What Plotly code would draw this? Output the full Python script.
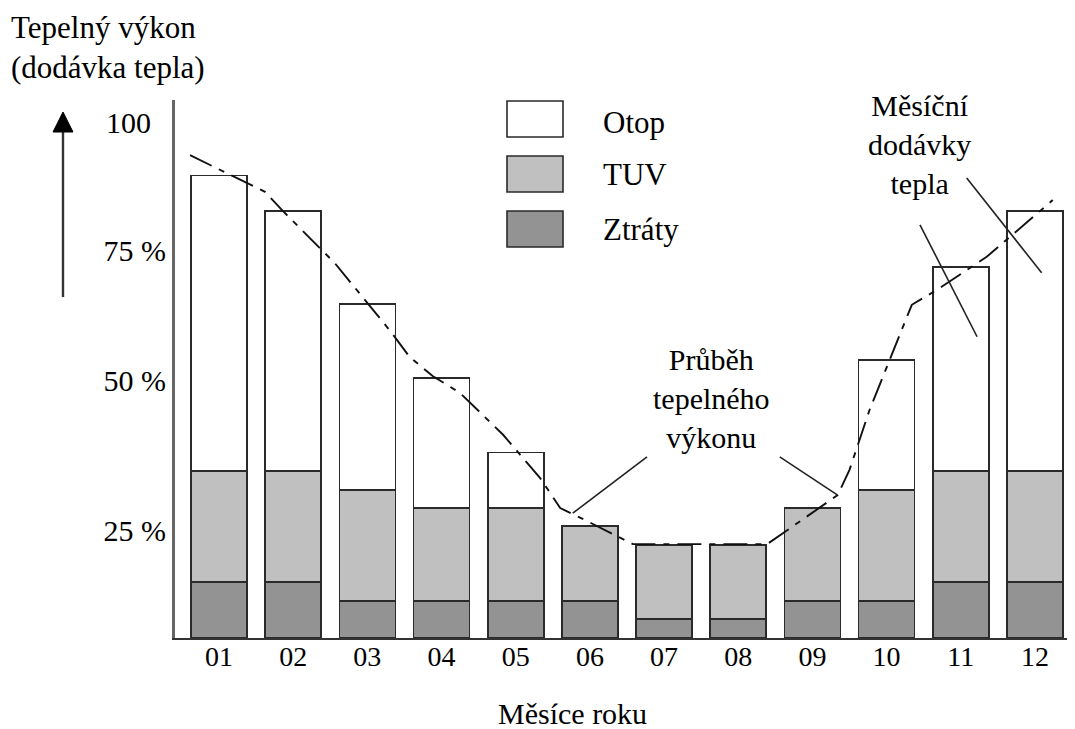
import plotly.graph_objects as go

# Monthly heat delivery shares (% of peak)
months = list(range(1, 13))
month_labels = ["01", "02", "03", "04", "05", "06", "07", "08", "09", "10", "11", "12"]
ztraty = [10.9, 10.9, 7.2, 7.2, 7.2, 7.2, 3.7, 3.7, 7.2, 7.2, 10.9, 10.9]
tuv = [21.5, 21.5, 21.5, 18.0, 18.0, 14.5, 14.3, 14.3, 18.0, 21.5, 21.5, 21.5]
otop = [57.3, 50.4, 36.0, 25.2, 10.8, 0, 0, 0, 0, 25.2, 39.5, 50.4]

# Průběh tepelného výkonu (dash-dot curve)
curve_x = [0.61, 1.62, 1.86, 2.56, 3.31, 3.57, 3.88, 4.25, 4.83, 5.33, 5.60, 5.93,
           6.58, 8.39, 9.34, 9.50, 9.77, 10.02, 10.34, 10.68, 11.35, 12.24]
curve_y = [93.6, 86.5, 82.8, 72.7, 59.5, 54.5, 50.8, 47.5, 39.4, 31.0, 25.2, 22.9,
           18.2, 18.2, 27.7, 32.6, 44.2, 53.3, 64.6, 67.5, 73.9, 84.9]

# y tick labels, placed where the reference puts them
ytick_vals = [20.9, 50, 75.2, 100]
ytick_text = ["25 %", "50 %", "75 %", "100\u00a0\u00a0"]

FONT = "Liberation Serif, Times New Roman, serif"
OFF = 8  # page body margin
W, H = 1075 - OFF, 729 - OFF
L, R, T, B = 175 - OFF, 0, 100 - OFF, 91
PW, PH = W - L - R, H - T - B


def px(x, y):
    # reference pixel position -> paper coordinates
    return (x - OFF - L) / PW, (H - B - (y - OFF)) / PH


fig = go.Figure()

bar_line = dict(color="#2a2a2a", width=1.6)
fig.add_trace(go.Bar(x=months, y=ztraty, name="Ztráty", width=0.755,
                     marker=dict(color="#939393", line=bar_line)))
fig.add_trace(go.Bar(x=months, y=tuv, name="TUV", width=0.755,
                     marker=dict(color="#c0c0c0", line=bar_line)))
fig.add_trace(go.Bar(x=months, y=otop, name="Otop", width=0.755,
                     marker=dict(color="white", line=bar_line)))

fig.add_trace(go.Scatter(x=curve_x, y=curve_y, mode="lines",
                         line=dict(color="#111", width=1.9, dash="24px,8px,6px,8px"),
                         showlegend=False))

# leader lines for the callouts
for x0, y0, x1, y1 in [(6.77, 35.1, 5.77, 24.2), (8.56, 35.1, 9.34, 27.7),
                       (10.45, 80.1, 11.22, 58.4), (11.08, 89.2, 12.09, 70.8)]:
    fig.add_shape(type="line", x0=x0, y0=y0, x1=x1, y1=y1, xref="x", yref="y",
                  line=dict(color="#222", width=1.6))

fig.add_annotation(x=7.64, y=46.5, xref="x", yref="y", showarrow=False,
                   text="Průběh<br>tepelného<br>výkonu", align="center",
                   font=dict(size=30))
fig.add_annotation(x=10.45, y=95.6, xref="x", yref="y", showarrow=False,
                   text="Měsíční<br>dodávky<br>tepla", align="center",
                   font=dict(size=30))

# hand-drawn style legend
legend = [("Otop", "white", 101, 123), ("TUV", "#c0c0c0", 156, 175), ("Ztráty", "#939393", 211, 229)]
for name, col, top, mid in legend:
    x0, y0 = px(507, top + 36)
    x1, y1 = px(563, top)
    fig.add_shape(type="rect", xref="paper", yref="paper", x0=x0, y0=y0, x1=x1, y1=y1,
                  fillcolor=col, line=dict(color="#2a2a2a", width=1.6))
    lx, ly = px(601, mid)
    fig.add_annotation(x=lx, y=ly, xref="paper", yref="paper", text=name, showarrow=False,
                       xanchor="left", yanchor="middle", font=dict(size=31))

# y title and arrow
tx, ty = px(9, 8)
fig.add_annotation(x=tx, y=ty, xref="paper", yref="paper", showarrow=False,
                   text="Tepelný výkon<br>(dodávka tepla)", align="left",
                   xanchor="left", yanchor="top", font=dict(size=31))
sx0, sy0 = px(63, 297)
sx1, sy1 = px(63, 130)
fig.add_shape(type="line", xref="paper", yref="paper", x0=sx0, y0=sy0, x1=sx1, y1=sy1,
              line=dict(color="#333", width=2.4))
hx0, hy0 = px(53, 132)
hx1, hy1 = px(73, 132)
hx2, hy2 = px(63, 112)
fig.add_shape(type="path", xref="paper", yref="paper",
              path=f"M{hx0},{hy0} L{hx1},{hy1} L{hx2},{hy2} Z",
              fillcolor="black", line=dict(color="black", width=1))

# x title
xx, xy = px(572, 713)
fig.add_annotation(x=xx, y=xy, xref="paper", yref="paper", showarrow=False,
                   text="Měsíce roku", xanchor="center", yanchor="middle",
                   font=dict(size=30))

fig.update_layout(
    width=W, height=H,
    margin=dict(l=L, r=R, t=T, b=B),
    barmode="stack",
    showlegend=False,
    plot_bgcolor="white", paper_bgcolor="white",
    font=dict(family=FONT, size=28, color="black"),
    xaxis=dict(range=[0.407, 12.54], tickvals=months, ticktext=month_labels,
               showline=True, linecolor="#333", linewidth=2, showgrid=False,
               zeroline=False, ticks="", ticklabelstandoff=-8),
    yaxis=dict(range=[0, 104.3], tickvals=ytick_vals, ticktext=ytick_text,
               showline=True, linecolor="#666", linewidth=3, showgrid=False,
               zeroline=False, ticks="", ticklabelstandoff=0,
               tickfont=dict(size=30)),
)

fig.write_html("out.html")
